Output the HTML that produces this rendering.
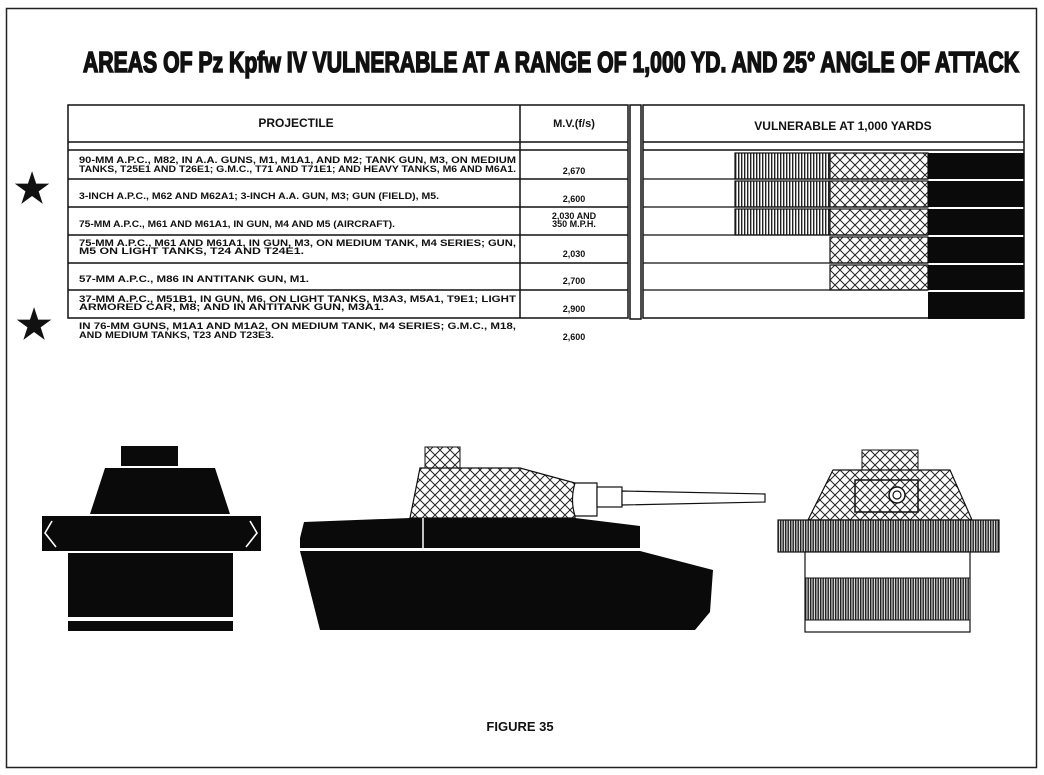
<!DOCTYPE html>
<html><head><style>
body{margin:0;background:#fff;}
svg{display:block;}
text{font-family:"Liberation Sans",sans-serif;font-weight:bold;fill:#111;}
</style></head><body>
<svg width="1044" height="775" viewBox="0 0 1044 775" xmlns="http://www.w3.org/2000/svg">
<defs>
<pattern id="vl" width="3" height="4" patternUnits="userSpaceOnUse"><rect width="3" height="4" fill="#fff"/><rect width="1.4" height="4" fill="#222"/></pattern>
<pattern id="vd" width="2.5" height="4" patternUnits="userSpaceOnUse"><rect width="2.5" height="4" fill="#ddd"/><rect width="1.4" height="4" fill="#222"/></pattern>
<pattern id="xh" width="10" height="10" patternUnits="userSpaceOnUse"><rect width="10" height="10" fill="#fff"/><path d="M0,0L10,10M10,0L0,10" stroke="#222" stroke-width="1"/></pattern>
</defs>
<rect x="6.5" y="8.5" width="1030" height="759" fill="none" stroke="#222" stroke-width="1.5"/>
<text x="551" y="72" text-anchor="middle" font-size="29" stroke="#111" stroke-width="1.6" transform="translate(551,0) scale(0.8,1) translate(-551,0)" textLength="1170" lengthAdjust="spacingAndGlyphs">AREAS OF Pz Kpfw IV VULNERABLE AT A RANGE OF 1,000 YD. AND 25° ANGLE OF ATTACK</text>
<g stroke="#111" stroke-width="1.5" fill="none">
<rect x="68" y="105" width="560" height="213"/>
<rect x="643" y="105" width="381" height="213"/>
<line x1="520" y1="105" x2="520" y2="318"/>
<line x1="68" y1="142" x2="628" y2="142"/><line x1="68" y1="150" x2="628" y2="150"/>
<line x1="643" y1="142" x2="1024" y2="142"/><line x1="643" y1="150" x2="1024" y2="150"/>
</g>
<rect x="630" y="105" width="11" height="214" fill="#fff" stroke="#111" stroke-width="1.5"/>
<g stroke="#111" stroke-width="1.5">
<line x1="68" y1="179" x2="628" y2="179"/><line x1="68" y1="207" x2="628" y2="207"/>
<line x1="68" y1="235" x2="628" y2="235"/><line x1="68" y1="263" x2="628" y2="263"/>
<line x1="68" y1="290" x2="628" y2="290"/>
</g>
<g stroke="#111" stroke-width="1.2">
<rect x="735" y="153" width="95" height="26" fill="url(#vl)"/>
<rect x="735" y="181" width="95" height="26" fill="url(#vl)"/>
<rect x="735" y="209" width="95" height="26" fill="url(#vl)"/>
<rect x="830" y="153" width="98" height="26" fill="url(#xh)"/>
<rect x="830" y="181" width="98" height="26" fill="url(#xh)"/>
<rect x="830" y="209" width="98" height="26" fill="url(#xh)"/>
<rect x="830" y="237" width="98" height="26" fill="url(#xh)"/>
<rect x="830" y="265" width="98" height="25" fill="url(#xh)"/>
<line x1="643" y1="179" x2="928" y2="179"/><line x1="643" y1="207" x2="928" y2="207"/>
<line x1="643" y1="235" x2="928" y2="235"/><line x1="643" y1="263" x2="928" y2="263"/>
<line x1="643" y1="290" x2="928" y2="290"/>
</g>
<g fill="#0a0a0a">
<rect x="928" y="153" width="96" height="26"/><rect x="928" y="181" width="96" height="26"/>
<rect x="928" y="209" width="96" height="26"/><rect x="928" y="237" width="96" height="26"/>
<rect x="928" y="265" width="96" height="25"/><rect x="928" y="292" width="96" height="27"/>
</g>
<text x="296" y="127" font-size="12" font-weight="normal" text-anchor="middle">PROJECTILE</text>
<text x="574" y="127" font-size="11" text-anchor="middle" font-weight="normal">M.V.(f/s)</text>
<text x="843" y="130" font-size="12" text-anchor="middle" font-weight="normal">VULNERABLE AT 1,000 YARDS</text>
<g font-size="9">
<text x="79" y="163" textLength="437" lengthAdjust="spacingAndGlyphs">90-MM A.P.C., M82, IN A.A. GUNS, M1, M1A1, AND M2; TANK GUN, M3, ON MEDIUM</text>
<text x="79" y="172" textLength="437" lengthAdjust="spacingAndGlyphs">TANKS, T25E1 AND T26E1; G.M.C., T71 AND T71E1; AND HEAVY TANKS, M6 AND M6A1.</text>
<text x="79" y="199" textLength="360" lengthAdjust="spacingAndGlyphs">3-INCH A.P.C., M62 AND M62A1; 3-INCH A.A. GUN, M3; GUN (FIELD), M5.</text>
<text x="79" y="227" textLength="316" lengthAdjust="spacingAndGlyphs">75-MM A.P.C., M61 AND M61A1, IN GUN, M4 AND M5 (AIRCRAFT).</text>
<text x="79" y="246" textLength="437" lengthAdjust="spacingAndGlyphs">75-MM A.P.C., M61 AND M61A1, IN GUN, M3, ON MEDIUM TANK, M4 SERIES; GUN,</text>
<text x="79" y="254" textLength="225" lengthAdjust="spacingAndGlyphs">M5 ON LIGHT TANKS, T24 AND T24E1.</text>
<text x="79" y="282" textLength="230" lengthAdjust="spacingAndGlyphs">57-MM A.P.C., M86 IN ANTITANK GUN, M1.</text>
<text x="79" y="302" textLength="437" lengthAdjust="spacingAndGlyphs">37-MM A.P.C., M51B1, IN GUN, M6, ON LIGHT TANKS, M3A3, M5A1, T9E1; LIGHT</text>
<text x="79" y="310" textLength="305" lengthAdjust="spacingAndGlyphs">ARMORED CAR, M8; AND IN ANTITANK GUN, M3A1.</text>
<text x="79" y="329" textLength="437" lengthAdjust="spacingAndGlyphs">IN 76-MM GUNS, M1A1 AND M1A2, ON MEDIUM TANK, M4 SERIES; G.M.C., M18,</text>
<text x="79" y="338" textLength="195" lengthAdjust="spacingAndGlyphs">AND MEDIUM TANKS, T23 AND T23E3.</text>
<g text-anchor="middle">
<text x="574" y="174">2,670</text><text x="574" y="202">2,600</text>
<text x="574" y="219">2,030 AND</text><text x="574" y="227">350 M.P.H.</text>
<text x="574" y="257">2,030</text><text x="574" y="284">2,700</text>
<text x="574" y="312">2,900</text><text x="574" y="340">2,600</text>
</g></g>
<text x="32" y="202" font-size="40" text-anchor="middle" font-family="DejaVu Sans">★</text>
<text x="34" y="338" font-size="40" text-anchor="middle" font-family="DejaVu Sans">★</text>
<g fill="#0a0a0a">
<rect x="121" y="446" width="57" height="20"/>
<polygon points="105,468 215,468 230,514 90,514"/>
<rect x="42" y="516" width="219" height="35"/>
<rect x="68" y="553" width="165" height="64"/>
<rect x="68" y="621" width="165" height="10"/>
</g>
<g stroke="#fff" stroke-width="1.6" fill="none">
<polyline points="52,521 45,533 56,547"/><polyline points="250,521 257,533 246,547"/>
</g>
<rect x="425" y="447" width="35" height="22" fill="url(#xh)" stroke="#111"/>
<polygon points="420,468 520,468 575,483 575,518 410,518" fill="url(#xh)" stroke="#111" stroke-width="1.2"/>
<path d="M575,483 L597,483 L597,516 L575,516 Q570,500 575,483Z" fill="#fff" stroke="#111" stroke-width="1.2"/>
<rect x="597" y="487" width="25" height="20" fill="#fff" stroke="#111" stroke-width="1.2"/>
<polygon points="622,491 765,494 765,502 622,505" fill="#fff" stroke="#111" stroke-width="1.2"/>
<g fill="#0a0a0a">
<polygon points="304,522 410,518 575,518 640,526 640,548 300,548 300,538"/>
<polygon points="300,551 640,551 713,570 710,612 695,630 320,630"/>
</g>
<line x1="423" y1="518" x2="423" y2="548" stroke="#fff" stroke-width="1.5"/>
<rect x="862" y="450" width="56" height="20" fill="url(#xh)" stroke="#111"/>
<polygon points="833,470 950,470 972,520 808,520" fill="url(#xh)" stroke="#111" stroke-width="1.2"/>
<rect x="855" y="480" width="63" height="32" fill="url(#xh)" stroke="#111" stroke-width="1.5"/>
<circle cx="897" cy="495" r="8" fill="#fff" stroke="#111" stroke-width="1.5"/>
<circle cx="897" cy="495" r="4" fill="none" stroke="#111" stroke-width="1.2"/>
<rect x="778" y="520" width="221" height="32" fill="url(#vd)" stroke="#111" stroke-width="1.2"/>
<rect x="805" y="552" width="165" height="80" fill="#fff" stroke="#111" stroke-width="1.2"/>
<rect x="805" y="578" width="165" height="42" fill="url(#vd)" stroke="#111" stroke-width="1"/>
<text x="520" y="731" font-size="13" text-anchor="middle">FIGURE 35</text>
</svg>
</body></html>
